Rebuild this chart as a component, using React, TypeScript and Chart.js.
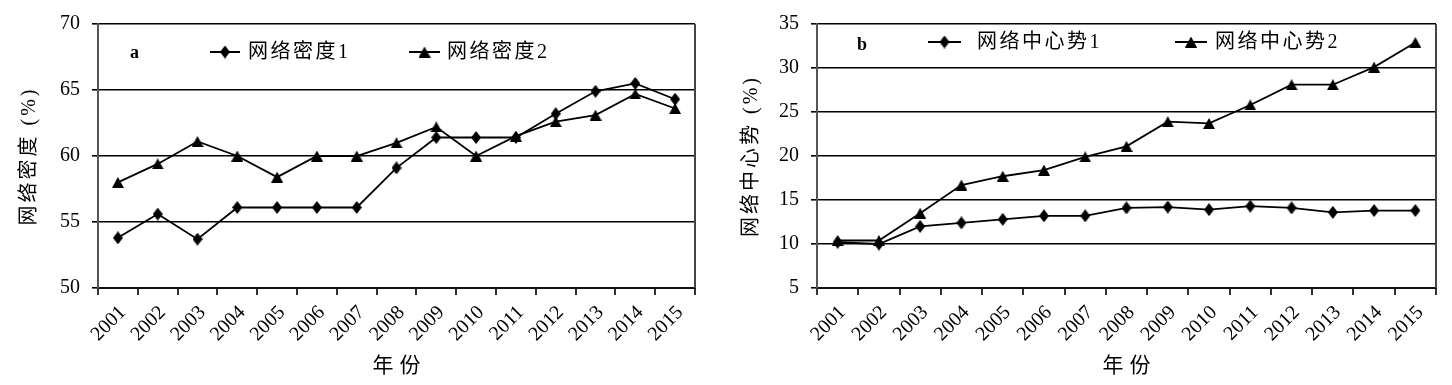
import React, { useEffect, useRef } from 'react';
import { Chart, registerables } from 'chart.js';

Chart.register(...registerables);

const years = ['2001', '2002', '2003', '2004', '2005', '2006', '2007', '2008', '2009', '2010', '2011', '2012', '2013', '2014', '2015'];

const density1 = [53.8, 55.6, 53.7, 56.1, 56.1, 56.1, 56.1, 59.1, 61.4, 61.4, 61.4, 63.2, 64.9, 65.5, 64.3];
const density2 = [58.0, 59.4, 61.1, 60.0, 58.4, 60.0, 60.0, 61.0, 62.2, 60.0, 61.5, 62.6, 63.1, 64.7, 63.6];

const central1 = [10.2, 10.0, 12.0, 12.4, 12.8, 13.2, 13.2, 14.1, 14.2, 13.9, 14.3, 14.1, 13.6, 13.8, 13.8];
const central2 = [10.4, 10.4, 13.5, 16.7, 17.7, 18.4, 19.9, 21.1, 23.9, 23.7, 25.8, 28.1, 28.1, 30.1, 32.9];

const densityNames = ['网络密度1', '网络密度2'];
const centralNames = ['网络中心势1', '网络中心势2'];

const FONT = '"Liberation Serif", "Noto Sans CJK SC", serif';

function makeDiamond(): HTMLCanvasElement {
  const c = document.createElement('canvas');
  c.width = 10;
  c.height = 13;
  const g = c.getContext('2d')!;
  g.fillStyle = '#000';
  g.beginPath();
  g.moveTo(5, 0);
  g.lineTo(10, 6.5);
  g.lineTo(5, 13);
  g.lineTo(0, 6.5);
  g.closePath();
  g.fill();
  return c;
}

function makeTriangle(): HTMLCanvasElement {
  const c = document.createElement('canvas');
  c.width = 12;
  c.height = 11;
  const g = c.getContext('2d')!;
  g.fillStyle = '#000';
  g.beginPath();
  g.moveTo(6, 0);
  g.lineTo(12, 11);
  g.lineTo(0, 11);
  g.closePath();
  g.fill();
  return c;
}

type LegendItem = { x1: number; x2: number; tx: number };

type PanelProps = {
  left: number;
  width: number;
  padRight: number;
  yAxisWidth: number;
  values: number[][];
  names: string[];
  yMin: number;
  yMax: number;
  yTitle: string;
  yTitleX: number;
  letter: string;
  letterX: number;
  letterY: number;
  legendY: number;
  legendItems: LegendItem[];
};

function Panel(p: PanelProps) {
  const ref = useRef<HTMLCanvasElement | null>(null);

  useEffect(() => {
    const canvas = ref.current;
    if (!canvas) return;
    const diamond = makeDiamond();
    const triangle = makeTriangle();
    const markers = [diamond, triangle];

    const decor = {
      id: 'decor',
      afterDraw(chart: Chart) {
        const ctx = chart.ctx;
        const area = chart.chartArea;
        ctx.save();
        // right border
        ctx.strokeStyle = '#444';
        ctx.lineWidth = 2;
        ctx.beginPath();
        ctx.moveTo(area.right, area.top);
        ctx.lineTo(area.right, area.bottom);
        ctx.stroke();

        // panel letter
        ctx.fillStyle = '#000';
        ctx.font = 'bold 18px "Liberation Serif", serif';
        ctx.textAlign = 'left';
        ctx.textBaseline = 'alphabetic';
        ctx.fillText(p.letter, p.letterX, p.letterY);

        // legend
        ctx.font = '20px ' + FONT;
        (ctx as any).letterSpacing = '2.5px';
        ctx.textBaseline = 'middle';
        p.legendItems.forEach((it, i) => {
          ctx.strokeStyle = '#000';
          ctx.lineWidth = 2;
          ctx.beginPath();
          ctx.moveTo(it.x1, p.legendY);
          ctx.lineTo(it.x2, p.legendY);
          ctx.stroke();
          const m = markers[i];
          ctx.drawImage(m, (it.x1 + it.x2) / 2 - m.width / 2, p.legendY - m.height / 2);
          ctx.fillText(p.names[i], it.tx, p.legendY + 1);
        });

        // y title
        ctx.save();
        (ctx as any).letterSpacing = '3px';
        ctx.font = '20px ' + FONT;
        ctx.translate(p.yTitleX, (area.top + area.bottom) / 2);
        ctx.rotate(-Math.PI / 2);
        ctx.textAlign = 'center';
        ctx.textBaseline = 'middle';
        ctx.fillText(p.yTitle, 0, 0);
        ctx.restore();

        // x title
        (ctx as any).letterSpacing = '6px';
        ctx.font = '21px ' + FONT;
        ctx.textAlign = 'center';
        ctx.textBaseline = 'middle';
        ctx.fillText('年份', (area.left + area.right) / 2 + 3, 366);
        ctx.restore();
      },
    };

    const chart = new Chart(canvas, {
      type: 'line',
      data: {
        labels: years,
        datasets: p.values.map((v, i) => ({
          label: p.names[i],
          data: v,
          borderColor: '#000',
          backgroundColor: '#000',
          borderWidth: 1.8,
          pointStyle: markers[i] as any,
          pointRadius: 5,
          tension: 0,
          fill: false,
        })),
      },
      options: {
        animation: false,
        responsive: false,
        maintainAspectRatio: false,
        devicePixelRatio: 1,
        layout: { padding: { left: 0, right: p.padRight, top: 19, bottom: 0 } },
        plugins: {
          legend: { display: false },
          tooltip: { enabled: false },
          title: { display: false },
        },
        scales: {
          x: {
            type: 'category',
            offset: true,
            grid: {
              offset: true,
              drawOnChartArea: false,
              drawTicks: true,
              tickLength: 7,
              color: '#333',
              lineWidth: 2,
            },
            border: { display: true, color: '#111', width: 2 },
            ticks: {
              autoSkip: false,
              minRotation: 45,
              maxRotation: 45,
              padding: 6,
              labelOffset: 5,
              color: '#000',
              font: { family: FONT, size: 20 },
            },
            afterFit: (s: any) => {
              s.height = 97;
            },
          },
          y: {
            min: p.yMin,
            max: p.yMax,
            ticks: {
              stepSize: 5,
              padding: 12,
              color: '#000',
              font: { family: FONT, size: 20 },
            },
            grid: { color: '#000', lineWidth: 1.6, tickLength: 6 },
            border: { display: true, color: '#555', width: 2 },
            afterFit: (s: any) => {
              s.width = p.yAxisWidth;
            },
          },
        },
      },
      plugins: [decor],
    });
    return () => chart.destroy();
  }, []);

  return (
    <canvas
      ref={ref}
      width={p.width}
      height={385}
      style={{ position: 'absolute', left: p.left, top: 0, width: p.width, height: 385 }}
    />
  );
}

export default function App() {
  return (
    <div style={{ position: 'absolute', left: 0, top: 0, width: 1452, height: 385, background: '#fff' }}>
      <Panel
        left={0}
        width={720}
        padRight={25}
        yAxisWidth={98}
        values={[density1, density2]}
        names={densityNames}
        yMin={50}
        yMax={70}
        yTitle="网络密度 (%)"
        yTitleX={30}
        letter="a"
        letterX={130}
        letterY={58}
        legendY={52}
        legendItems={[
          { x1: 210, x2: 240, tx: 248 },
          { x1: 409, x2: 440, tx: 447 },
        ]}
      />
      <Panel
        left={720}
        width={732}
        padRight={16}
        yAxisWidth={97}
        values={[central1, central2]}
        names={centralNames}
        yMin={5}
        yMax={35}
        yTitle="网络中心势 (%)"
        yTitleX={32}
        letter="b"
        letterX={137}
        letterY={50}
        legendY={42}
        legendItems={[
          { x1: 208, x2: 241, tx: 257 },
          { x1: 455, x2: 487, tx: 495 },
        ]}
      />
    </div>
  );
}
